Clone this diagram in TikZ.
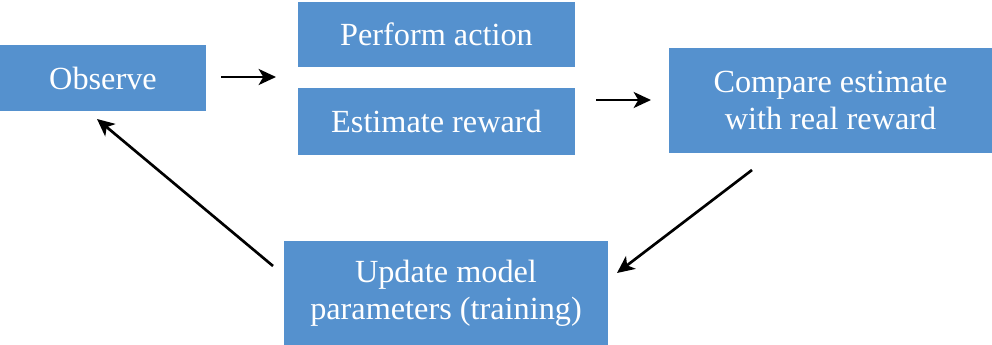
\documentclass[tikz,border=0pt]{standalone}
\usepackage{fontspec}
\setmainfont{Liberation Serif}
\usetikzlibrary{arrows.meta}
\definecolor{boxblue}{HTML}{5591CE}
\begin{document}
\begin{tikzpicture}[x=0.75pt,y=-0.75pt,
  blk/.style={fill=boxblue,draw=none,text=white,align=center,inner sep=0pt,
    font=\fontsize{24.2}{28}\selectfont},
  arr/.style={draw=black,line width=2pt,-{Stealth[length=13pt,width=12pt,inset=3.5pt]}}]
\useasboundingbox (0,0) rectangle (992,345);
\node[blk,minimum width=206*0.75pt,minimum height=66*0.75pt] (obs) at (103,78) {Observe};
\node[blk,minimum width=277*0.75pt,minimum height=65*0.75pt] (perf) at (436.5,34.5) {Perform action};
\node[blk,minimum width=277*0.75pt,minimum height=67*0.75pt] (est) at (436.5,121.5) {Estimate reward};
\node[blk,minimum width=323*0.75pt,minimum height=105*0.75pt] (cmp) at (830.5,100.5) {Compare estimate\\with real reward};
\node[blk,minimum width=324*0.75pt,minimum height=105*0.75pt] (upd) at (446,293.5) {Update model\\parameters (training)};
\coordinate (a1s) at (221,77);
\coordinate (a1e) at (276,77);
\coordinate (a2s) at (596,100);
\coordinate (a2e) at (651,100);
\coordinate (a3s) at (752,170);
\coordinate (a3e) at (617,273);
\coordinate (a4s) at (273,266);
\coordinate (a4e) at (97,119);
\draw[arr] (a1s) -- (a1e);
\draw[arr] (a2s) -- (a2e);
\draw[arr] (a3s) -- (a3e);
\draw[arr] (a4s) -- (a4e);
\end{tikzpicture}
\end{document}
